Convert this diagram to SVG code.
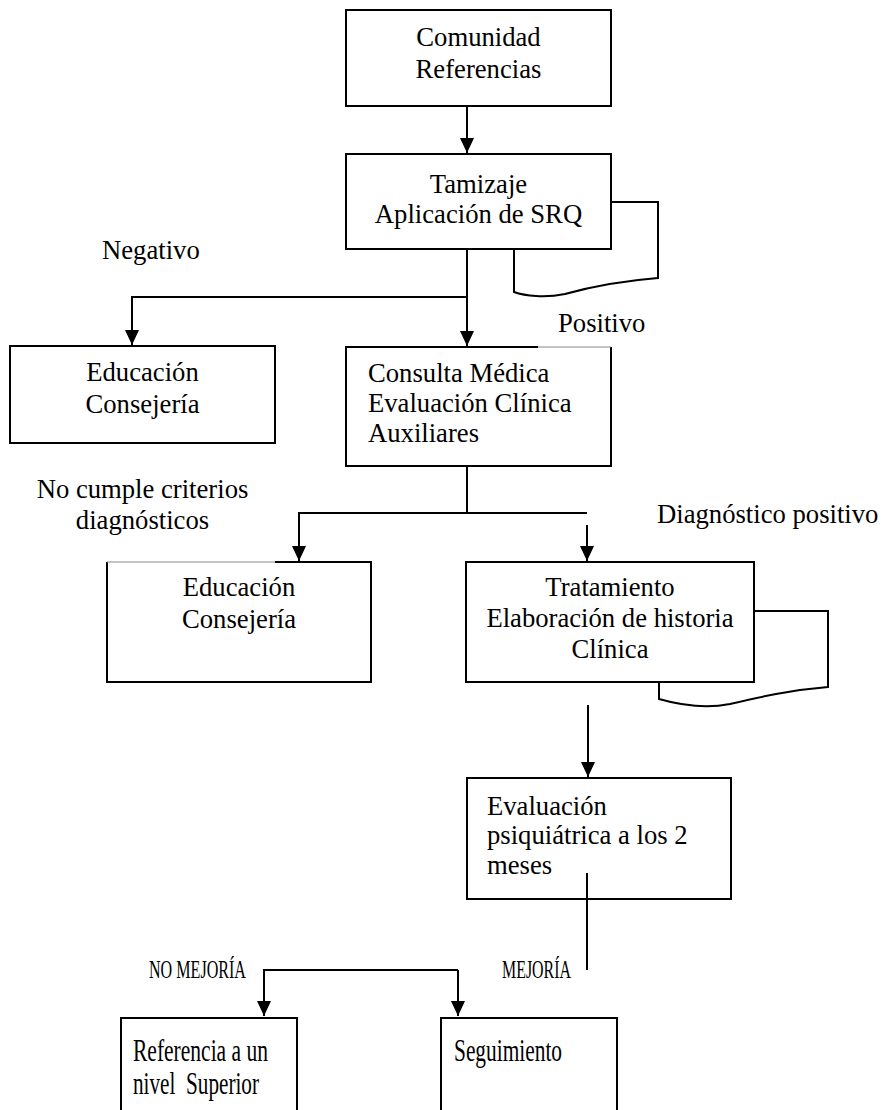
<svg xmlns="http://www.w3.org/2000/svg" width="883" height="1110" viewBox="0 0 883 1110">
<style>
.box{fill:#fff;stroke:#000;stroke-width:2}
.ln{fill:none;stroke:#000;stroke-width:2}
.t{font-family:"Liberation Serif","Times New Roman",serif;font-size:26.67px;fill:#000}
.c{text-anchor:middle}
text.n{font-size:31px}
text.s{font-size:25px}
</style>
<defs>
<marker id="ah" markerUnits="userSpaceOnUse" markerWidth="16" markerHeight="14" refX="15" refY="7" orient="auto">
<path d="M0,0 L15,7 L0,14 Z" fill="#000"/>
</marker>
</defs>
<rect width="883" height="1110" fill="#fff"/>
<g id="connectors">
<line class="ln" x1="467" y1="106" x2="467" y2="153" marker-end="url(#ah)"/>
<line class="ln" x1="467" y1="249" x2="467" y2="346" marker-end="url(#ah)"/>
<polyline class="ln" points="467,297 132,297 132,345" marker-end="url(#ah)"/>
<line class="ln" x1="467" y1="466" x2="467" y2="513"/>
<polyline class="ln" points="587,513 299,513 299,561" marker-end="url(#ah)"/>
<line class="ln" x1="587" y1="525" x2="587" y2="561" marker-end="url(#ah)"/>
<line class="ln" x1="588" y1="705" x2="588" y2="777" marker-end="url(#ah)"/>
<line class="ln" x1="587" y1="873" x2="587" y2="970"/>
<polyline class="ln" points="458,970 264,970 264,1016" marker-end="url(#ah)"/>
<line class="ln" x1="458" y1="970" x2="458" y2="1016" marker-end="url(#ah)"/>
</g>
<g id="n-comunidad">
<rect class="box" x="346" y="10" width="265" height="96"/>
<text class="t c" x="478.5" y="46">Comunidad</text>
<text class="t c" x="478.5" y="78">Referencias</text>
</g>
<g id="n-tamizaje">
<path class="ln" d="M611,202 L658,202 L658,278 C620,281 590,287 565,294 C545,298 525,296 514,292 L514,249"/>
<rect class="box" x="346" y="154" width="265" height="95"/>
<text class="t c" x="478.5" y="193">Tamizaje</text>
<text class="t c" x="478.5" y="223">Aplicación de SRQ</text>
</g>
<g id="l-negativo"><text class="t" x="102" y="259">Negativo</text></g>
<g id="l-positivo"><text class="t" x="558" y="332">Positivo</text></g>
<g id="n-educacion1">
<rect class="box" x="10" y="346" width="265" height="97"/>
<text class="t c" x="142.5" y="381">Educación</text>
<text class="t c" x="142.5" y="413">Consejería</text>
</g>
<g id="n-consulta">
<rect x="346" y="347" width="265" height="119" fill="#fff"/>
<path class="ln" d="M538,347 L346,347 L346,466 L611,466 L611,347"/>
<line x1="538" y1="347" x2="611" y2="347" stroke="#888" stroke-width="1"/>
<text class="t" x="368" y="382">Consulta Médica</text>
<text class="t" x="368" y="412">Evaluación Clínica</text>
<text class="t" x="368" y="442">Auxiliares</text>
</g>
<g id="l-nocumple">
<text class="t c" x="142.5" y="498">No cumple criterios</text>
<text class="t c" x="142.5" y="529">diagnósticos</text>
</g>
<g id="l-diagpos"><text class="t" x="657" y="523">Diagnóstico positivo</text></g>
<g id="n-educacion2">
<rect x="107" y="562" width="264" height="120" fill="#fff"/>
<path class="ln" d="M275,562 L371,562 L371,682 L107,682 L107,562"/>
<line x1="107" y1="562" x2="275" y2="562" stroke="#888" stroke-width="1"/>
<text class="t c" x="239" y="596">Educación</text>
<text class="t c" x="239" y="628">Consejería</text>
</g>
<g id="n-tratamiento">
<path class="ln" d="M754,611 L828,611 L828,687 C790,690 760,697 730,704 C705,709 680,705 659,699 L659,682"/>
<rect class="box" x="466" y="562" width="288" height="120"/>
<text class="t c" x="610" y="596">Tratamiento</text>
<text class="t c" x="610" y="627">Elaboración de historia</text>
<text class="t c" x="610" y="658">Clínica</text>
</g>
<g id="n-evaluacion">
<rect class="box" x="467" y="778" width="264" height="121"/>
<text class="t" x="487" y="815">Evaluación</text>
<text class="t" x="487" y="844">psiquiátrica a los 2</text>
<text class="t" x="487" y="874">meses</text>
<line class="ln" x1="587" y1="873" x2="587" y2="899"/>
</g>
<g id="l-nomejoria"><text class="t s" x="149" y="978" textLength="97" lengthAdjust="spacingAndGlyphs">NO MEJORÍA</text></g>
<g id="l-mejoria"><text class="t s" x="502" y="978" textLength="69" lengthAdjust="spacingAndGlyphs">MEJORÍA</text></g>
<g id="n-referencia">
<rect class="box" x="121" y="1018" width="176" height="100"/>
<text class="t n" x="133" y="1061" textLength="135" lengthAdjust="spacingAndGlyphs">Referencia a un</text>
<text class="t n" x="133" y="1094" textLength="126" lengthAdjust="spacingAndGlyphs">nivel&#160; Superior</text>
</g>
<g id="n-seguimiento">
<rect class="box" x="441" y="1018" width="176" height="100"/>
<text class="t n" x="454" y="1061" textLength="108" lengthAdjust="spacingAndGlyphs">Seguimiento</text>
</g>
</svg>
